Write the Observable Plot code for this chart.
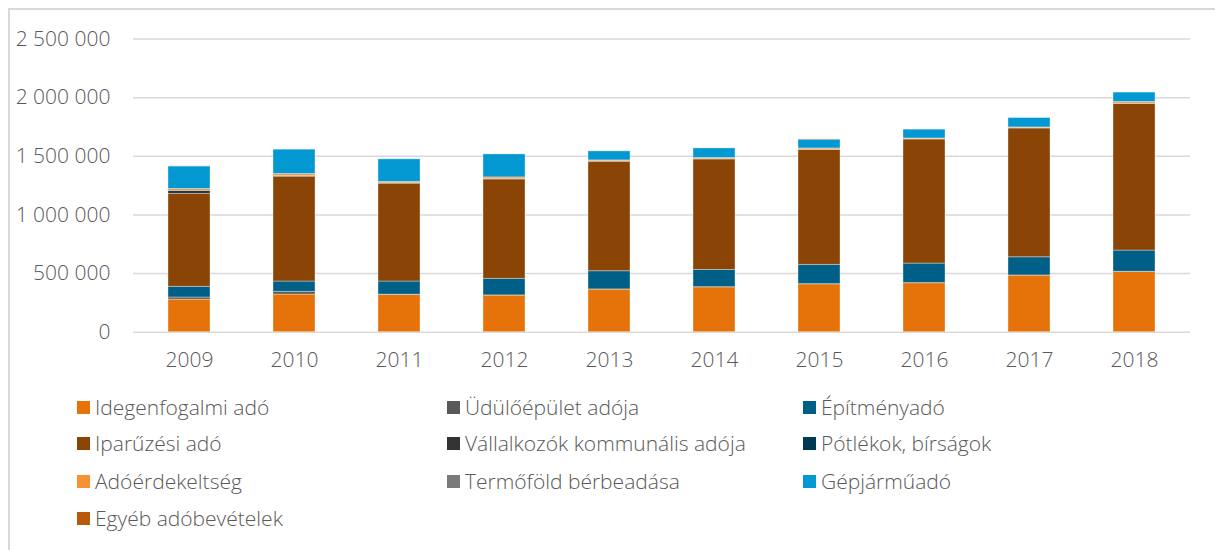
<!DOCTYPE html>
<html>
<head>
<meta charset="utf-8">
<script src="https://cdn.jsdelivr.net/npm/d3@7"></script>
<script src="https://cdn.jsdelivr.net/npm/@observablehq/plot@0.6"></script>
<style>
  html, body { margin: 0; padding: 0; background: #fff; }
  #wrap { position: relative; width: 1215px; height: 550px; overflow: hidden; font-family: "Open Sans", sans-serif; }
  #frame { position: absolute; left: 8px; top: 8px; width: 1220px; height: 560px; border-left: 2px solid #d9d9d9; border-top: 2px solid #d9d9d9; box-sizing: border-box; }
  #chart { position: absolute; left: 0; top: 0; }
  #legend { position: absolute; left: 0; top: 0; width: 1215px; height: 550px; pointer-events: none; }
  .item { position: absolute; display: flex; align-items: center; font-size: 21px; font-weight: 300; color: #595959; white-space: nowrap; }
  .sw { width: 13px; height: 13px; margin-right: 5px; }
</style>
</head>
<body>
<div id="wrap">
  <div id="frame"></div>
  <div id="chart"></div>
  <div id="legend"></div>
</div>
<script>
const years = ["2009","2010","2011","2012","2013","2014","2015","2016","2017","2018"];
const seriesNames = [
  "Idegenfogalmi adó", "Üdülőépület adója", "Építményadó",
  "Iparűzési adó", "Vállalkozók kommunális adója", "Pótlékok, bírságok",
  "Adóérdekeltség", "Termőföld bérbeadása", "Gépjárműadó",
  "Egyéb adóbevételek"
];
const seriesColors = [
  "#E6730A", "#595959", "#005F86",
  "#8A4406", "#333333", "#003A52",
  "#F79234", "#7A7A7A", "#0398D1",
  "#B85A0A"
];
// values in thousand
const idegenfogalmi = [278, 321, 318, 313, 364, 383, 409, 418, 483, 514];
const udulo         = [18, 23, 2, 1, 1, 1, 1, 1, 1, 1];
const epitmeny      = [91, 88, 112, 141, 155, 147, 164, 166, 155, 181];
const iparuzesi     = [792, 894, 835, 848, 934, 943, 980, 1059, 1099, 1250];
const vallalkozok   = [26, 5, 2, 2, 1, 1, 1, 1, 1, 1];
const potlekok      = [2, 2, 2, 2, 2, 2, 2, 2, 2, 2];
const adoerdek      = [14, 16, 10, 13, 8, 8, 10, 5, 5, 14];
const termofold     = [0, 0, 0, 0, 0, 0, 0, 0, 0, 0];
const gepjarmu      = [192, 207, 193, 196, 77, 82, 74, 75, 80, 80];
const egyeb         = [1, 0, 0, 0, 0, 0, 3, 0, 0, 0];
const yTicks = [0, 500000, 1000000, 1500000, 2000000, 2500000];

const seriesValues = [idegenfogalmi, udulo, epitmeny, iparuzesi, vallalkozok, potlekok, adoerdek, termofold, gepjarmu, egyeb];
const data = [];
seriesNames.forEach((s, i) => {
  years.forEach((y, j) => {
    data.push({year: y, series: s, value: seriesValues[i][j] * 1000});
  });
});

const fmt = d => d3.format(",")(d).replace(/,/g, " ");

const chart = Plot.plot({
  width: 1215,
  height: 380,
  marginLeft: 133,
  marginRight: 25,
  marginTop: 38.5,
  marginBottom: 48.3,
  style: { fontFamily: "Open Sans, sans-serif", fontSize: "21px", fontWeight: 300, color: "#595959", background: "transparent" },
  x: { domain: years, paddingInner: 0.6, paddingOuter: 0.3, label: null },
  y: { domain: [0, 2500000], label: null },
  color: { domain: seriesNames, range: seriesColors },
  marks: [
    Plot.gridY(yTicks, { stroke: "#d9d9d9", strokeOpacity: 1, strokeWidth: 1.5 }),
    Plot.barY(data, Plot.stackY({
      x: "year", y: "value", fill: "series", order: seriesNames,
      stroke: "white", strokeOpacity: 0.35, strokeWidth: 1
    })),
    Plot.axisY(yTicks, { tickSize: 0, tickPadding: 23, tickFormat: fmt, fill: "#595959", fontWeight: 300 }),
    Plot.axisX({ tickSize: 0, tickPadding: 20, fill: "#595959", fontWeight: 300 })
  ]
});
document.getElementById("chart").appendChild(chart);

// legend
const legend = document.getElementById("legend");
const colX = [77, 447, 803];
const rowY = [407, 443, 481, 518];
seriesNames.forEach((s, i) => {
  const el = document.createElement("div");
  el.className = "item";
  el.style.left = colX[i % 3] + "px";
  el.style.top = (rowY[Math.floor(i / 3)] - 15) + "px";
  el.style.height = "30px";
  const sw = document.createElement("span");
  sw.className = "sw";
  sw.style.background = seriesColors[i];
  const t = document.createElement("span");
  t.textContent = s;
  el.appendChild(sw);
  el.appendChild(t);
  legend.appendChild(el);
});
</script>
</body>
</html>
